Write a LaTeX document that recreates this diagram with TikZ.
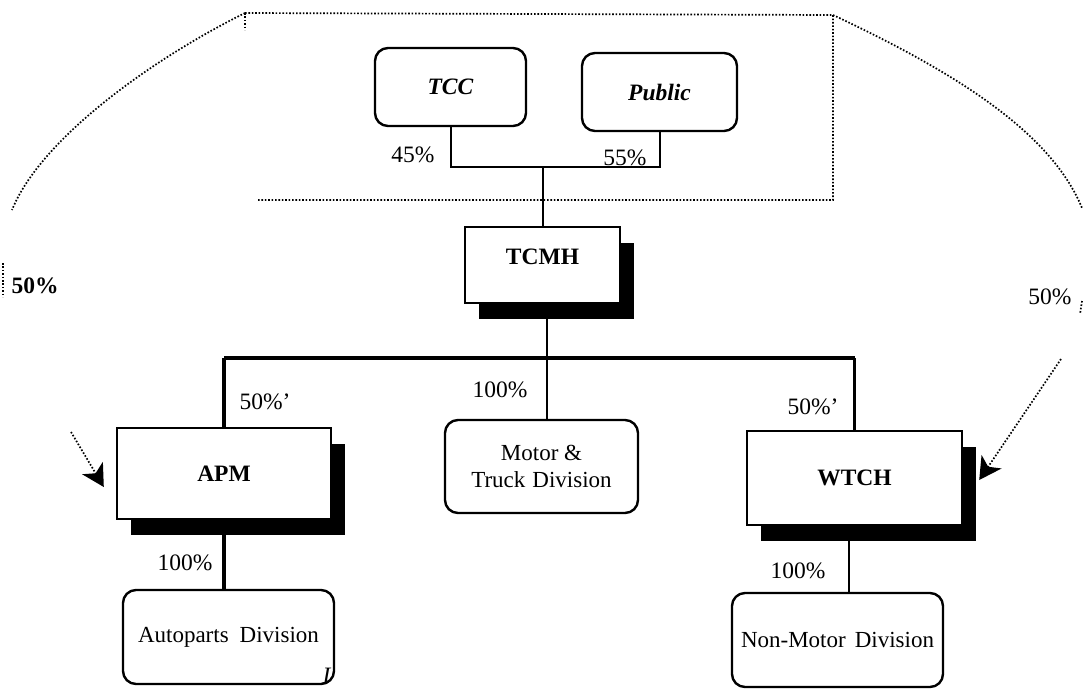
\documentclass[tikz,border=0pt]{standalone}
\usepackage{fontspec}
\setmainfont{Liberation Serif}
\usetikzlibrary{backgrounds,shadows,arrows.meta}

\tikzset{
  txt/.style={font=\fontsize{23.5}{28}\selectfont, inner sep=0pt},
  roundbox/.style={draw, line width=2.4pt, rounded corners=13pt, fill=white,
    align=center, inner sep=2pt, font=\fontsize{23}{27}\selectfont},
  holdbox/.style={draw, line width=2.4pt, fill=white, inner sep=2pt,
    font=\fontsize{23.5}{28}\selectfont\bfseries,
    drop shadow={shadow xshift=14pt, shadow yshift=-16pt, fill=black, opacity=1}},
  link/.style={line width=2pt},
  bus/.style={line width=3.2pt},
  dots/.style={line width=1.7pt, dash pattern=on 1.6pt off 1.8pt},
  pointer/.style={dots, -{Stealth[length=22pt, width=24pt, inset=6pt]}}
}

\begin{document}
\begin{tikzpicture}[x=1pt, y=-1pt]
\useasboundingbox (0,0) rectangle (1083,689);

% owners
\node[roundbox, minimum width=151pt, minimum height=78pt, font=\fontsize{23.5}{28}\selectfont]
  (tcc) at (450.5,87) {\textbf{\textit{TCC}}};
\node[roundbox, minimum width=155pt, minimum height=78pt, font=\fontsize{23.5}{28}\selectfont]
  (public) at (659.5,92) {\textbf{\textit{Public}}};

% holding companies
\node[holdbox, minimum width=155pt, minimum height=76pt,
      text height=15pt, text depth=16pt] (tcmh) at (542.5,265) {TCMH};
\node[holdbox, minimum width=214pt, minimum height=91pt] (apm) at (224,473.5) {APM};
\node[holdbox, minimum width=215pt, minimum height=94pt] (wtch) at (854.5,478) {WTCH};

% divisions
\node[roundbox, minimum width=193pt, minimum height=93pt] (motor) at (541.5,466.5)
  {Motor \&\\Truck\hspace{7pt}Division};
\node[roundbox, minimum width=211pt, minimum height=94pt] (autoparts) at (228.5,637)
  {Autoparts\hspace{11pt}Division};
\node[roundbox, minimum width=211pt, minimum height=94pt] (nonmotor) at (837.5,640)
  {Non-Motor\hspace{9pt}Division};

% junction points of the ownership lines
\coordinate (top) at (543,167);
\coordinate (bus) at (547,358);

\begin{pgfonlayer}{background}
  \draw[link] (tcc.south) -- (tcc.south |- top) -| (public.south);
  \draw[link] (top) -- (top |- tcmh.north);
  \draw[link] (tcmh.south -| bus) -- (bus);
  \draw[bus] (apm.north |- bus) -- (wtch.north |- bus);
  \draw[bus] (apm.north |- bus) -- (apm.north);
  \draw[bus] (wtch.north |- bus) -- (wtch.north);
  \draw[link] (motor.north -| bus) -- (bus);
  \draw[bus] (apm.south) -- (apm.south |- autoparts.north);
  \draw[link] ([xshift=-6pt]wtch.south) -- ([xshift=-6pt]wtch.south |- nonmotor.north);
\end{pgfonlayer}

% percentages
\node[txt] (p45) at (413,155) {45\%};
\node[txt] (p55) at (625,158) {55\%};
\node[txt] (papm) at (265,402) {50\%’};
\node[txt] (pwtch) at (813,407) {50\%’};
\node[txt] (pmotor) at (500,390) {100\%};
\node[txt] (pauto) at (185,563) {100\%};
\node[txt] (pnon) at (798,571) {100\%};
\node[txt] (pleft) at (35,286) {\textbf{50\%}};
\node[txt] (pright) at (1050,297) {50\%};
\node[txt] (mark) at (327,676) {\textit{I}};

% dotted outline round the TCMH owners and the cross holdings
\coordinate (tl) at (245,13);
\coordinate (tr) at (833,15);
\coordinate (br) at (833,200);
\coordinate (bl) at (257,200);
\draw[dots] (tl) -- (tr) -- (br) -- (bl);
\draw[dots] (tl) -- ++(0,17);
\draw[dots] (tl) .. controls (150,60) and (40,140) .. (12,210);
\draw[dots] (tr) .. controls (950,70) and (1050,130) .. (1082,208);
\draw[dots] (3,263) -- (3,297);
\draw[dots] (1082,301) -- (1080,314);

% cross holdings pointing to APM and WTCH
\coordinate (lt) at (71,432);
\coordinate (rt) at (1061,359);
\draw[pointer] (lt) -- ([xshift=-12pt]apm.west |- 0,487);
\draw[pointer] (rt) -- ([xshift=16pt]wtch.east |- 0,480);
\end{tikzpicture}
\end{document}
